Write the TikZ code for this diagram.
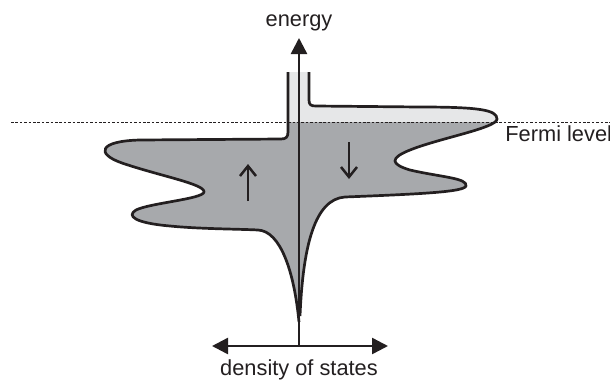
\documentclass[tikz,border=0pt]{standalone}
\usepackage{fontspec}
\setmainfont{Liberation Sans}
\usetikzlibrary{arrows.meta}
\definecolor{dosInk}{HTML}{231F20}
\definecolor{dosDark}{HTML}{A7A9AC}
\definecolor{dosLight}{HTML}{E6E7E8}
\newcommand{\edgeUp}{(288,72) -- (288,132) .. controls (288,137) and (286,139) .. (281,139)
  -- (140,140) .. controls (98,141) and (96,154) .. (122,163)
  .. controls (160,176) and (205,184) .. (204,192)
  .. controls (203,199) and (150,203) .. (136,210)
  .. controls (126,216) and (135,223) .. (170,226)
  .. controls (200,229) and (240,229) .. (258,230)
  .. controls (280,231) and (294,270) .. (299,322)}
\newcommand{\edgeDown}{(309,72) -- (309,100) .. controls (309,105) and (311,106) .. (316,106)
  -- (420,107) .. controls (480,107) and (497,110) .. (497,119)
  .. controls (497,128) and (440,138) .. (410,150)
  .. controls (390,158) and (390,164) .. (410,170)
  .. controls (440,177) and (468,178) .. (466,186)
  .. controls (464,192) and (420,194) .. (345,197)
  .. controls (315,199) and (303,245) .. (300,316)}

\begin{document}
\begin{tikzpicture}[
    x=0.5pt, y=-0.5pt,
    font=\fontsize{10.9}{13}\selectfont,
    lbl/.style={text=dosInk, inner sep=0pt},
    outline/.style={draw=dosInk, line width=1.35pt, line join=round},
    axis/.style={dosInk, line width=1.25pt, -{Triangle[length=8pt,width=8pt]}},
    spin/.style={dosInk, line width=1.25pt, -{Straight Barb[length=5pt,width=8pt]}},
    fermi/.style={dosInk, line width=0.5pt, dash pattern=on 1.3pt off 0.9pt}
]
\useasboundingbox (0,0) rectangle (610,381);

% -- fixed points
\coordinate (origin) at (299,346);
\coordinate (etop) at (299,38);
\coordinate (dleft) at (212,346);
\coordinate (dright) at (388,346);
\coordinate (fermiL) at (11,122);
\coordinate (fermiR) at (610,122);

% -- density of states, light above the Fermi level
\fill[dosLight] \edgeUp -- (299,72) -- cycle;
\fill[dosLight] \edgeDown -- (299,316) -- (299,72) -- cycle;

% -- filled states below the Fermi level
\begin{scope}
  \clip (0,122) rectangle (610,381);
  \fill[dosDark] \edgeUp -- (299,72) -- cycle;
  \fill[dosDark] \edgeDown -- (299,316) -- (299,72) -- cycle;
\end{scope}

\draw[outline] \edgeUp;
\draw[outline] \edgeDown;

% -- Fermi level
\draw[fermi] (fermiL) -- (fermiR);
\node[lbl, anchor=base west] (fermiLabel) at (505,141) {Fermi level};

% -- axes
\draw[axis] (origin) -- (etop);
\draw[axis, {Triangle[length=8pt,width=8pt]}-{Triangle[length=8pt,width=8pt]}] (dleft) -- (dright);
\node[lbl, anchor=base] (energyLabel) at (299,26) {energy};
\node[lbl, anchor=base] (dosLabel) at (299,375) {density of states};

% -- spins
\coordinate (upS) at (248,201);
\coordinate (upE) at (248,164);
\coordinate (dnS) at (349,142);
\coordinate (dnE) at (349,179);
\draw[spin] (upS) -- (upE);
\draw[spin] (dnS) -- (dnE);

\end{tikzpicture}
\end{document}
